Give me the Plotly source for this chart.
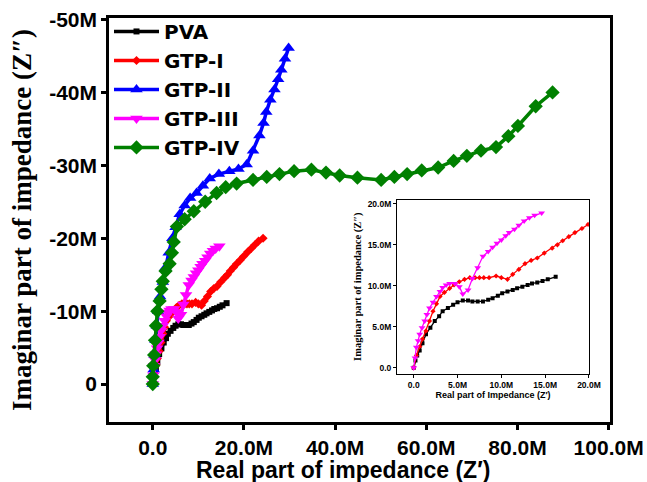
import plotly.graph_objects as go

# ---------------- data (values in M-ohm; "negzim" = -Z'') ----------------
pva_x = [0, 0.2, 0.4, 0.68, 1.0, 1.4, 1.9, 2.4, 2.9, 3.3, 3.9, 4.5, 5.0, 5.6, 6.2, 6.7,
         7.3, 7.9, 8.5, 9.0, 9.6, 10.1, 10.7, 11.3, 11.8, 12.4, 13.0, 13.5, 14.1, 14.7,
         15.3, 16.2]
pva_negzim = [0, 0.9, 1.5, 2.1, 3.0, 4.1, 4.9, 5.7, 6.3, 6.9, 7.3, 7.7, 8.0, 8.2, 8.2, 8.1,
              8.1, 8.1, 8.3, 8.5, 8.8, 9.1, 9.3, 9.5, 9.7, 9.9, 10.1, 10.3, 10.4, 10.6,
              10.8, 11.1]

gtp1_x = [0, 0.3, 0.7, 1.0, 1.4, 1.8, 2.2, 2.6, 3.0, 3.5, 4.1, 4.6, 5.2, 5.8, 6.4, 7.0,
          7.5, 8.0, 8.6, 9.4, 10.0, 10.7, 11.3, 12.0, 12.7, 13.4, 14.1, 14.9, 15.8, 16.4,
          17.0, 17.7, 18.4, 19.2, 19.9, 20.8, 21.6, 22.4, 23.2, 24.2]
gtp1_negzim = [0, 1.5, 2.6, 3.5, 4.5, 5.7, 6.9, 7.8, 8.7, 9.2, 9.7, 10.1, 10.5, 10.8, 11.0,
               11.0, 11.0, 11.0, 11.0, 11.2, 11.0, 10.8, 11.4, 12.0, 12.7, 13.1, 13.4, 14.0,
               14.6, 15.0, 15.5, 16.0, 16.5, 17.0, 17.5, 18.1, 18.6, 19.1, 19.6, 20.0]

gtp2_x = [0, 0.2, 0.4, 0.6, 0.9, 1.2, 1.6, 2.2, 2.8, 3.5, 4.3, 5.0, 5.9, 7.0, 8.2, 9.6,
          11.0, 12.5, 14.5, 16.8, 18.8, 20.6, 22.0, 23.4, 24.3, 24.9, 25.8, 26.7, 27.5,
          28.2, 29.0, 29.8]
gtp2_negzim = [0, 2.0, 4.0, 6.0, 8.0, 10.0, 12.0, 14.0, 16.0, 18.0, 20.0, 21.5, 23.3, 24.5,
               25.5, 26.2, 27.2, 28.2, 28.8, 29.2, 29.5, 30.1, 32.0, 34.1, 35.8, 37.3, 39.0,
               40.4, 41.8, 43.1, 44.6, 46.1]

gtp3_x = [0, 0.15, 0.3, 0.5, 0.68, 0.95, 1.25, 1.5, 1.8, 2.2, 2.6, 3.0, 3.3, 3.7, 4.1, 4.7,
          5.2, 5.6, 6.2, 6.7, 7.3, 7.9, 8.5, 9.0, 9.5, 10.0, 10.5, 10.9, 11.5, 12.0, 12.6,
          13.2, 13.8, 14.6]
gtp3_negzim = [0, 1.2, 2.5, 3.3, 4.1, 4.9, 5.7, 6.5, 7.3, 8.0, 8.7, 9.3, 9.8, 10.1, 10.3,
               10.3, 9.9, 9.0, 9.5, 10.9, 12.2, 13.6, 14.2, 14.7, 15.2, 15.6, 16.1, 16.5,
               16.9, 17.4, 17.9, 18.3, 18.6, 18.9]

gtp4_x = [0, 0.0, 0.1, 0.3, 0.5, 0.7, 1.0, 1.5, 1.9, 2.2, 2.8, 3.7, 4.2, 4.6, 5.3, 7.0,
          9.0, 11.5, 14.0, 16.0, 18.4, 22.0, 25.0, 27.8, 31.0, 34.8, 38.0, 41.0, 44.9,
          50.1, 53.0, 55.8, 59.0, 62.6, 66.0, 68.9, 72.0, 75.3, 78.0, 80.1, 84.0, 87.7]
gtp4_negzim = [0, 1.0, 2.5, 4.0, 6.0, 8.0, 10.0, 11.4, 13.0, 14.1, 15.5, 16.5, 18.0, 19.5,
               21.6, 22.6, 23.7, 25.0, 26.2, 27.0, 27.5, 28.0, 28.4, 28.8, 29.2, 29.4, 29.0,
               28.6, 28.3, 28.0, 28.4, 28.8, 29.3, 29.7, 30.6, 31.3, 32.0, 32.5, 34.0, 35.4,
               38.1, 40.0]

series_names = ["PVA", "GTP-I", "GTP-II", "GTP-III", "GTP-IV"]

main_xticks = [0, 20, 40, 60, 80, 100]
main_xticktext = ["0.0", "20.0M", "40.0M", "60.0M", "80.0M", "100.0M"]
main_yticks = [0, -10, -20, -30, -40, -50]
main_yticktext = ["0", "-10M", "-20M", "-30M", "-40M", "-50M"]
inset_ticks = [0, 5, 10, 15, 20]
inset_ticktext = ["0.0", "5.0M", "10.0M", "15.0M", "20.0M"]

# ---------------- figure ----------------
SANS = "Liberation Sans"
WIDE = "DejaVu Sans"
SERIF = "Liberation Serif"

styles = [
    dict(color="black", symbol="square", size=6),
    dict(color="red", symbol="diamond", size=7),
    dict(color="blue", symbol="triangle-up", size=11),
    dict(color="magenta", symbol="triangle-down", size=11),
    dict(color="green", symbol="diamond", size=11),
]
data = [(pva_x, pva_negzim), (gtp1_x, gtp1_negzim), (gtp2_x, gtp2_negzim),
        (gtp3_x, gtp3_negzim), (gtp4_x, gtp4_negzim)]

fig = go.Figure()
for name, (xs, ys), st in zip(series_names, data, styles):
    fig.add_trace(go.Scatter(
        x=xs, y=[-v for v in ys], name=name, mode="lines+markers",
        line=dict(color=st["color"], width=3.5),
        marker=dict(symbol=st["symbol"], size=st["size"], color=st["color"]),
        xaxis="x", yaxis="y"))

inset_idx = [0, 1, 3]
for i in inset_idx:
    xs, ys = data[i]
    st = styles[i]
    fig.add_trace(go.Scatter(
        x=xs, y=ys, name=series_names[i], mode="lines+markers", showlegend=False,
        line=dict(color=st["color"], width=1.3),
        marker=dict(symbol=st["symbol"], size=4 if i != 3 else 6, color=st["color"]),
        xaxis="x2", yaxis="y2"))

tickfont = dict(family=SANS, size=21, color="black", weight="bold")
inset_tickfont = dict(family=SANS, size=8.5, color="black", weight="bold")

fig.update_layout(
    width=647, height=482,
    margin=dict(l=109, r=37, t=15, b=60),
    paper_bgcolor="white", plot_bgcolor="white",
    showlegend=True,
    legend=dict(x=0.0, y=1.015, xanchor="left", yanchor="top",
                bgcolor="rgba(0,0,0,0)", borderwidth=0,
                font=dict(family=WIDE, size=20, color="black", weight="bold"),
                itemwidth=45, tracegroupgap=0),
    xaxis=dict(domain=[0, 1], range=[-9.6, 100.3], tickmode="array", automargin=False,
               tickvals=main_xticks, ticktext=main_xticktext,
               ticks="outside", ticklen=5, tickwidth=2.5, tickcolor="black",
               showline=True, linewidth=2.5, linecolor="black", mirror=True,
               showgrid=False, zeroline=False, tickfont=tickfont),
    yaxis=dict(domain=[0, 1], range=[5.2, -50.2], tickmode="array", automargin=False,
               tickvals=main_yticks, ticktext=main_yticktext,
               ticks="outside", ticklen=5, tickwidth=2.5, tickcolor="black",
               showline=True, linewidth=2.5, linecolor="black", mirror=True,
               showgrid=False, zeroline=False, tickfont=tickfont,
               title=dict(text="Imaginar part of impedance (Z″)", standoff=10,
                          font=dict(family=SERIF, size=27, color="black", weight="bold"))),
    xaxis2=dict(domain=[0.575, 0.958], anchor="y2", range=[-1.9, 20], tickmode="array",
                automargin=False,
                tickvals=inset_ticks, ticktext=inset_ticktext,
                ticks="outside", ticklen=3, tickwidth=1, tickcolor="black",
                showline=True, linewidth=1.2, linecolor="black", mirror=True,
                showgrid=False, zeroline=False, tickfont=inset_tickfont,
                title=dict(text="Real part of Impedance (Z′)", standoff=2,
                           font=dict(family=SANS, size=9, color="black", weight="bold"))),
    yaxis2=dict(domain=[0.12, 0.55], anchor="x2", range=[-0.7, 20.5], tickmode="array",
                automargin=False,
                tickvals=inset_ticks, ticktext=inset_ticktext,
                ticks="outside", ticklen=3, tickwidth=1, tickcolor="black",
                showline=True, linewidth=1.2, linecolor="black", mirror=True,
                showgrid=False, zeroline=False, tickfont=inset_tickfont,
                title=dict(text="Imaginar part of impedance (Z″)", standoff=3,
                           font=dict(family=SERIF, size=10.5, color="black", weight="bold"))),
    annotations=[dict(text="Real part of impedance (Z′)", xref="paper", yref="paper",
                      x=0.467, y=-0.118, xanchor="center", yanchor="middle",
                      showarrow=False,
                      font=dict(family=SANS, size=23, color="black", weight="bold"))],
)

fig.write_html("out.html")
